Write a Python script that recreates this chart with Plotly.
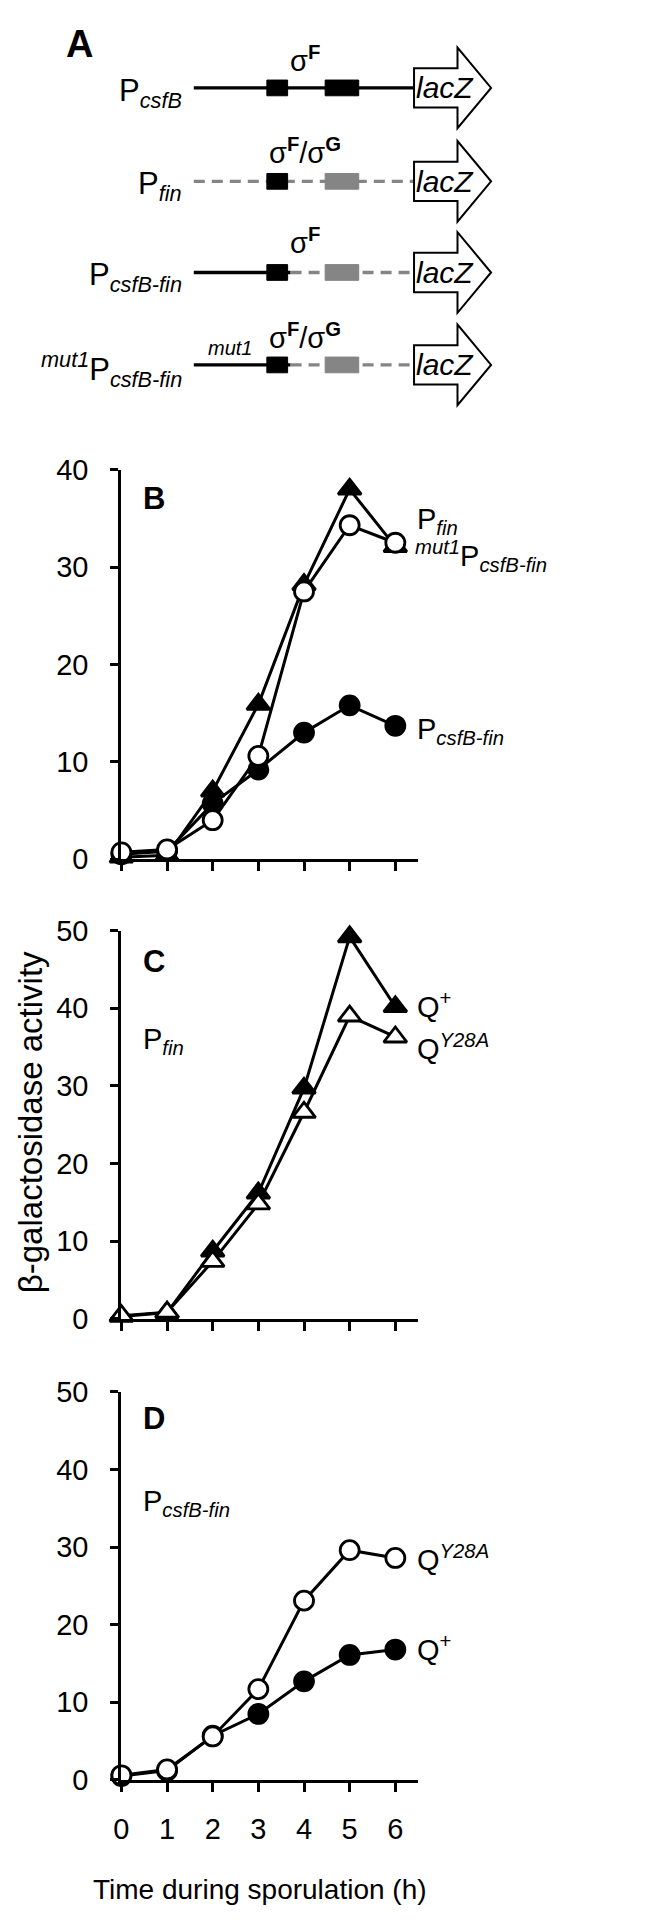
import plotly.graph_objects as go

# ---------------- data ----------------
hours = [0, 1, 2, 3, 4, 5, 6]
x_tick_labels = ["0", "1", "2", "3", "4", "5", "6"]

# Panel B
b_pfin = [0.2, 0.4, 7.0, 15.9, 28.2, 38.0, 32.1]
b_mut1_pcsfb_fin = [0.7, 1.0, 4.0, 10.6, 27.5, 34.3, 32.5]
b_pcsfb_fin = [0.5, 0.8, 5.7, 9.2, 13.0, 15.8, 13.7]
b_yticks = [0, 10, 20, 30, 40]

# Panel C (P_fin)
c_qplus = [0.3, 0.8, 8.7, 16.2, 29.7, 49.2, 40.2]
c_qy28a = [0.4, 0.85, 7.4, 14.8, 26.6, 39.0, 36.3]
c_yticks = [0, 10, 20, 30, 40, 50]

# Panel D (P_csfB-fin)
d_qy28a = [0.6, 1.35, 5.6, 11.7, 23.1, 29.6, 28.6]
d_qplus = [0.5, 1.2, 5.7, 8.5, 12.7, 16.1, 16.8]
d_yticks = [0, 10, 20, 30, 40, 50]

# Panel A schematic constructs
construct_labels = [
    "P<sub><i>csfB</i></sub>",
    "P<sub><i>fin</i></sub>",
    "P<sub><i>csfB-fin</i></sub>",
    "<sup><i>mut1</i></sup>P<sub><i>csfB-fin</i></sub>",
]
sigma_labels = [
    "σ<sup><b>F</b></sup>",
    "σ<sup><b>F</b></sup>/σ<sup><b>G</b></sup>",
    "σ<sup><b>F</b></sup>",
    "σ<sup><b>F</b></sup>/σ<sup><b>G</b></sup>",
]
upstream_kind = ["solid", "dashed", "solid", "solid"]
downstream_kind = ["solid", "dashed", "dashed", "dashed"]
box2_kind = ["black", "gray", "gray", "gray"]
reporter = "lacZ"

# ---------------- layout helpers ----------------
W, H = 650, 1920
FONT = "Liberation Sans, Arial, Helvetica, sans-serif"
GRAY = "#858585"


def px(x):
    return x / W


def py(y):
    return 1 - y / H


fig = go.Figure()

# ---------- Panel A (schematic on a pixel-mapped axis) ----------
A_TOP, A_BOT = 0, 410
row_y = [65, 160, 252.7, 346.7]
line_x0, line_x1 = 180, 403
box1 = (254, 275)
box2 = (313, 347)
split_x = 278
shapes = []
for i, yc in enumerate(row_y):
    def seg(x0, x1, kind):
        shapes.append(dict(
            type="line", xref="x4", yref="y4", x0=x0, x1=x1, y0=yc, y1=yc,
            line=dict(color="black" if kind == "solid" else GRAY, width=3.4,
                      dash="solid" if kind == "solid" else "11px,7px"),
            layer="below"))
    if upstream_kind[i] == downstream_kind[i]:
        seg(line_x0, line_x1, upstream_kind[i])
    else:
        seg(line_x0, split_x, upstream_kind[i])
        seg(split_x, line_x1, downstream_kind[i])
    shapes.append(dict(type="rect", xref="x4", yref="y4", x0=box1[0], x1=box1[1],
                       y0=yc - 8, y1=yc + 8, fillcolor="black",
                       line=dict(color="black", width=1)))
    c2 = "black" if box2_kind[i] == "black" else GRAY
    shapes.append(dict(type="rect", xref="x4", yref="y4", x0=box2[0], x1=box2[1],
                       y0=yc - 8, y1=yc + 8, fillcolor=c2,
                       line=dict(color=c2, width=1)))
    path = (f"M {line_x1} {yc-20} L 447 {yc-20} L 447 {yc-41} L 481 {yc} "
            f"L 447 {yc+41} L 447 {yc+20} L {line_x1} {yc+20} Z")
    shapes.append(dict(type="path", xref="x4", yref="y4", path=path,
                       fillcolor="white", line=dict(color="black", width=2)))

fig.add_trace(go.Scatter(x=[0], y=[0], xaxis="x4", yaxis="y4",
                         mode="markers", marker=dict(opacity=0),
                         showlegend=False, hoverinfo="skip"))

annotations = []


def ann(x, y, text, size, xanchor="center", yanchor="middle", **kw):
    annotations.append(dict(x=px(x), y=py(y), xref="paper", yref="paper",
                            text=text, showarrow=False, xanchor=xanchor,
                            yanchor=yanchor,
                            font=dict(family=FONT, size=size, color="black"),
                            **kw))


ann(64, 20, "<b>A</b>", 38)
sigma_y = [36, 129, 221, 317]
for i, yc in enumerate(row_y):
    ann(170, yc + 5, construct_labels[i], 31, xanchor="right")
    ann(293, sigma_y[i], sigma_labels[i], 29)
    ann(434, yc, f"<i>{reporter}</i>", 30)
ann(217, 329, "<i>mut1</i>", 20)

# ---------- plots B, C, D ----------
x_dom = [px(106.7), px(406.7)]
domains = {
    "B": [py(849.3), py(453.3)],
    "C": [py(1316.7), py(922)],
    "D": [py(1785.7), py(1391)],
}

LW = 3


def add(xa, ya, yvals, symbol, filled, size):
    fig.add_trace(go.Scatter(
        x=hours, y=yvals, xaxis=xa, yaxis=ya, mode="lines+markers",
        line=dict(color="black", width=LW),
        marker=dict(symbol=symbol, size=size,
                    color="black" if filled else "white",
                    line=dict(color="black", width=2.8)),
        cliponaxis=False, showlegend=False))


# B
add("x", "y", b_pcsfb_fin, "circle", True, 19)
add("x", "y", b_pfin, "triangle-up", True, 20)
add("x", "y", b_mut1_pcsfb_fin, "circle", False, 19)
# C
add("x2", "y2", c_qplus, "triangle-up", True, 20)
add("x2", "y2", c_qy28a, "triangle-up", False, 20)
# D
add("x3", "y3", d_qplus, "circle", True, 19)
add("x3", "y3", d_qy28a, "circle", False, 19)

xcommon = dict(domain=x_dom, range=[0, 6.49], showgrid=False, zeroline=False,
               showline=True, linecolor="black", linewidth=3.2,
               ticks="outside", ticklen=9, tickwidth=3, tickcolor="black",
               tickvals=hours, ticktext=x_tick_labels,
               tickfont=dict(family=FONT, size=29, color="black"))
ycommon = dict(showgrid=False, zeroline=False, showline=True, linecolor="black",
               linewidth=3.2, ticks="outside", ticklen=8, tickwidth=3,
               tickcolor="black", ticklabelstandoff=16,
               tickfont=dict(family=FONT, size=29, color="black"))

fig.update_layout(
    width=W, height=H, margin=dict(l=0, r=0, t=0, b=0),
    paper_bgcolor="white", plot_bgcolor="white",
    xaxis=dict(**xcommon, anchor="y", showticklabels=False),
    yaxis=dict(**ycommon, domain=domains["B"], range=[0, 40], tickvals=b_yticks, anchor="x"),
    xaxis2=dict(**xcommon, anchor="y2", showticklabels=False),
    yaxis2=dict(**ycommon, domain=domains["C"], range=[0, 50], tickvals=c_yticks, anchor="x2"),
    xaxis3=dict(**xcommon, anchor="y3", showticklabels=True, ticklabelstandoff=12),
    yaxis3=dict(**ycommon, domain=domains["D"], range=[0, 50], tickvals=d_yticks, anchor="x3"),
    xaxis4=dict(domain=[0, 1], range=[0, W], visible=False, anchor="y4"),
    yaxis4=dict(domain=[py(A_BOT), 1], range=[A_BOT, A_TOP], visible=False, anchor="x4"),
    shapes=shapes,
)

# panel labels and series labels
ann(127, 483, "<b>B</b>", 31, xanchor="left")
ann(404, 505, "P<sub><i>fin</i></sub>", 29, xanchor="left")
ann(402, 541, "<sup><i>mut1</i></sup>P<sub><i>csfB-fin</i></sub>", 29, xanchor="left")
ann(404, 719, "P<sub><i>csfB-fin</i></sub>", 29, xanchor="left")

ann(127, 953, "<b>C</b>", 31, xanchor="left")
ann(127, 1034, "P<sub><i>fin</i></sub>", 29, xanchor="left")
ann(404, 998, "Q<sup>+</sup>", 29, xanchor="left")
ann(404, 1040, "Q<sup><i>Y28A</i></sup>", 29, xanchor="left")

ann(127, 1418, "<b>D</b>", 31, xanchor="left")
ann(127, 1504, "P<sub><i>csfB-fin</i></sub>", 29, xanchor="left")
ann(404, 1560, "Q<sup><i>Y28A</i></sup>", 29, xanchor="left")
ann(404, 1652, "Q<sup>+</sup>", 29, xanchor="left")

ann(247, 1897, "Time during sporulation (h)", 28)
ann(15, 1117, "β-galactosidase activity", 33, textangle=-90)

fig.update_layout(annotations=annotations)
fig.write_html("out.html")
